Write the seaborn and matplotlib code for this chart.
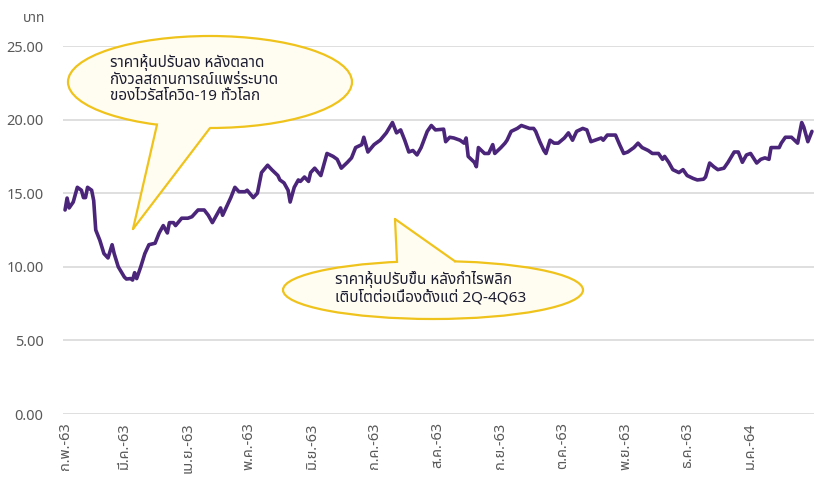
import matplotlib
matplotlib.use("Agg")
import matplotlib.pyplot as plt
import seaborn as sns
import pandas as pd
import numpy as np
from matplotlib.patches import Ellipse, Polygon
from matplotlib.lines import Line2D
from matplotlib import font_manager

# ---------------- data ----------------
dates = [
    "2020-02-01", "2020-02-02", "2020-02-03", "2020-02-04", "2020-02-05", "2020-02-07", "2020-02-09",
    "2020-02-10", "2020-02-11", "2020-02-12", "2020-02-14", "2020-02-15", "2020-02-16", "2020-02-18",
    "2020-02-20", "2020-02-22", "2020-02-24", "2020-02-25", "2020-02-27",
    "2020-03-01", "2020-03-02", "2020-03-04", "2020-03-05", "2020-03-06", "2020-03-07", "2020-03-09",
    "2020-03-11", "2020-03-13", "2020-03-16", "2020-03-18", "2020-03-20", "2020-03-22", "2020-03-23",
    "2020-03-25", "2020-03-26", "2020-03-29",
    "2020-04-01", "2020-04-03", "2020-04-06", "2020-04-09", "2020-04-11", "2020-04-13", "2020-04-15",
    "2020-04-17", "2020-04-18", "2020-04-20", "2020-04-22", "2020-04-24", "2020-04-26", "2020-04-29",
    "2020-04-30",
    "2020-05-03", "2020-05-05", "2020-05-07", "2020-05-10", "2020-05-12", "2020-05-15", "2020-05-16",
    "2020-05-18", "2020-05-20", "2020-05-21", "2020-05-23", "2020-05-25", "2020-05-26", "2020-05-28",
    "2020-05-30", "2020-05-31",
    "2020-06-02", "2020-06-05", "2020-06-08", "2020-06-11", "2020-06-13", "2020-06-15", "2020-06-18",
    "2020-06-20", "2020-06-22", "2020-06-25", "2020-06-26", "2020-06-28",
    "2020-07-01", "2020-07-04", "2020-07-07", "2020-07-10", "2020-07-12", "2020-07-14", "2020-07-16",
    "2020-07-18", "2020-07-20", "2020-07-22", "2020-07-24", "2020-07-27", "2020-07-29", "2020-07-31",
    "2020-08-04", "2020-08-05", "2020-08-07", "2020-08-09", "2020-08-12", "2020-08-14", "2020-08-15",
    "2020-08-16", "2020-08-19", "2020-08-20", "2020-08-21", "2020-08-24", "2020-08-26", "2020-08-28",
    "2020-08-29",
    "2020-09-01", "2020-09-03", "2020-09-04", "2020-09-06", "2020-09-09", "2020-09-11", "2020-09-15",
    "2020-09-17", "2020-09-18", "2020-09-20", "2020-09-22", "2020-09-23", "2020-09-25", "2020-09-27",
    "2020-09-29",
    "2020-10-02", "2020-10-04", "2020-10-06", "2020-10-08", "2020-10-11", "2020-10-13", "2020-10-15",
    "2020-10-17", "2020-10-20", "2020-10-21", "2020-10-23", "2020-10-27", "2020-10-29", "2020-10-31",
    "2020-11-02", "2020-11-05", "2020-11-07", "2020-11-09", "2020-11-12", "2020-11-14", "2020-11-17",
    "2020-11-19", "2020-11-20", "2020-11-22", "2020-11-24", "2020-11-27", "2020-11-29",
    "2020-12-01", "2020-12-04", "2020-12-06", "2020-12-09", "2020-12-10", "2020-12-12", "2020-12-14",
    "2020-12-16", "2020-12-19", "2020-12-21", "2020-12-24", "2020-12-26", "2020-12-28", "2020-12-30",
    "2021-01-01", "2021-01-04", "2021-01-06", "2021-01-08", "2021-01-10", "2021-01-11", "2021-01-15",
    "2021-01-16", "2021-01-18", "2021-01-21", "2021-01-24", "2021-01-26", "2021-01-27", "2021-01-29",
    "2021-01-31",
]
prices = [
    13.86, 14.67, 14.0, 14.2, 14.4, 15.4, 15.2,
    14.7, 14.7, 15.4, 15.2, 14.5, 12.5, 11.8,
    10.9, 10.6, 11.5, 10.9, 10.0,
    9.3, 9.17, 9.2, 9.1, 9.6, 9.2, 10.0,
    10.9, 11.5, 11.6, 12.3, 12.8, 12.3, 13.0,
    13.0, 12.8, 13.3,
    13.3, 13.4, 13.86, 13.86, 13.5, 13.0, 13.5,
    14.0, 13.5, 14.1, 14.7, 15.4, 15.1, 15.1,
    15.2,
    14.7, 15.0, 16.4, 16.9, 16.6, 16.2, 15.9,
    15.7, 15.2, 14.4, 15.4, 15.9, 15.8, 16.1,
    15.8, 16.4,
    16.7, 16.2, 17.7, 17.5, 17.3, 16.7, 17.1,
    17.4, 18.1, 18.3, 18.8, 17.8,
    18.3, 18.6, 19.1, 19.8, 19.1, 19.3, 18.6,
    17.8, 17.9, 17.6, 18.1, 19.2, 19.6, 19.3,
    19.35, 18.5, 18.8, 18.75, 18.6, 18.4, 18.75,
    17.5, 17.1, 16.8, 18.1, 17.7, 17.7, 18.3,
    17.7,
    18.1, 18.4, 18.6, 19.2, 19.4, 19.6, 19.4,
    19.4, 19.2, 18.5, 17.9, 17.7, 18.6, 18.4,
    18.4,
    18.75, 19.1, 18.6, 19.2, 19.4, 19.3, 18.5,
    18.6, 18.75, 18.6, 18.95, 18.95, 18.3, 17.7,
    17.8, 18.1, 18.4, 18.1, 17.9, 17.7, 17.7,
    17.3, 17.5, 17.1, 16.6, 16.4, 16.6,
    16.2, 16.0, 15.9, 15.95, 16.1, 17.05, 16.8,
    16.6, 16.7, 17.1, 17.8, 17.8, 17.1, 17.6,
    17.7, 17.05, 17.3, 17.4, 17.3, 18.1, 18.1,
    18.4, 18.8, 18.8, 18.4, 19.8, 19.5, 18.5,
    19.2,
]
month_ticks = ["2020-02-01", "2020-03-01", "2020-04-01", "2020-05-01", "2020-06-01", "2020-07-01",
               "2020-08-01", "2020-09-01", "2020-10-01", "2020-11-01", "2020-12-01", "2021-01-01"]
month_labels = ["ก.พ.-63", "มี.ค.-63", "เม.ย.-63", "พ.ค.-63", "มิ.ย.-63", "ก.ค.-63",
                "ส.ค.-63", "ก.ย.-63", "ต.ค.-63", "พ.ย.-63", "ธ.ค.-63", "ม.ค.-64"]
y_ticks = [0, 5, 10, 15, 20, 25]
unit_label = "บาท"
note_down = "ราคาหุ้นปรับลง หลังตลาด\nกังวลสถานการณ์แพร่ระบาด\nของไวรัสโควิด-19 ทั่วโลก"
note_up = "ราคาหุ้นปรับขึ้น หลังกำไรพลิก\nเติบโตต่อเนื่องตั้งแต่ 2Q-4Q63"

# ---------------- fonts ----------------
def find_thai_fonts():
    found = []
    try:
        from fontTools.ttLib import TTFont
    except Exception:
        return found
    for f in font_manager.fontManager.ttflist:
        try:
            t = TTFont(f.fname, fontNumber=0, lazy=True)
            cmap = t.getBestCmap() or {}
            if 0x0E01 in cmap:
                found.append(f.name)
        except Exception:
            pass
    return sorted(set(found))

sns.set_theme(style="white")
thai = find_thai_fonts()
preferred = ["Noto Sans Thai", "Sarabun", "Noto Sans Thai Looped", "IBM Plex Sans Thai", "Anuphan"]
chosen = [p for p in preferred if p in thai] or thai[:1]
plt.rcParams["font.family"] = chosen[:1] + ["DejaVu Sans"]

W, H = 814, 479
fig = plt.figure(figsize=(W / 100, H / 100), dpi=100)
ax = fig.add_axes([63 / W, 65 / H, 751 / W, 368 / H])

df = pd.DataFrame({"date": pd.to_datetime(dates), "price": prices})
sns.lineplot(data=df, x="date", y="price", ax=ax, color="#4a2579", lw=2.6)

ax.set_ylim(0, 25)
ax.set_xlim(pd.Timestamp("2020-01-31"), pd.Timestamp("2021-02-01"))
ax.set_yticks(y_ticks)
ax.set_yticklabels([f"{v:.2f}" for v in y_ticks])
ax.set_xticks(pd.to_datetime(month_ticks))
ax.set_xticklabels(month_labels, rotation=90)
ax.set_xlabel("")
ax.set_ylabel("")
for s in ax.spines.values():
    s.set_visible(False)
ax.yaxis.grid(True, color="#d9d9d9", lw=1.2)
ax.xaxis.grid(False)
ax.tick_params(axis="y", length=0, pad=14, labelsize=10.5, labelcolor="#595959")
ax.tick_params(axis="x", length=0, pad=6, labelsize=10.5, labelcolor="#595959")

fig.text(45 / W, 1 - 19 / H, unit_label, ha="right", va="center", fontsize=10, color="#595959")

# ---------------- callouts ----------------
def fx(x):
    return x / W

def fy(y):
    return 1 - y / H

def callout(cx, cy, a, b, tip, bx1, bx2, text, tx, ty):
    face = "#fffdf2"
    edge = "#efc31c"
    sign = 1 if tip[1] > cy else -1
    def on_ell(x):
        return (x, cy + sign * b * np.sqrt(max(0.0, 1 - ((x - cx) / a) ** 2)))
    p1, p2 = on_ell(bx1), on_ell(bx2)
    ell = Ellipse((fx(cx), fy(cy)), 2 * a / W, 2 * b / H, transform=fig.transFigure,
                  facecolor=face, edgecolor=edge, lw=1.6, zorder=10)
    fig.add_artist(ell)
    wedge = Polygon([(fx(tip[0]), fy(tip[1])), (fx(p1[0]), fy(p1[1])), (fx(cx), fy(cy)),
                     (fx(p2[0]), fy(p2[1]))], closed=True, transform=fig.transFigure,
                    facecolor=face, edgecolor="none", zorder=11)
    fig.add_artist(wedge)
    for p in (p1, p2):
        fig.add_artist(Line2D([fx(tip[0]), fx(p[0])], [fy(tip[1]), fy(p[1])],
                              transform=fig.transFigure, color=edge, lw=1.6, zorder=12))
    fig.text(fx(tx), fy(ty), text, ha="left", va="center", fontsize=11, color="#1c1c30",
             linespacing=1.15, zorder=13)

callout(210, 82, 142, 46, (133, 229), 157, 210, note_down, 110, 79)
callout(433, 290, 150, 29, (395, 219), 397, 455, note_up, 335, 288)

fig.savefig("out.png", dpi=100)
